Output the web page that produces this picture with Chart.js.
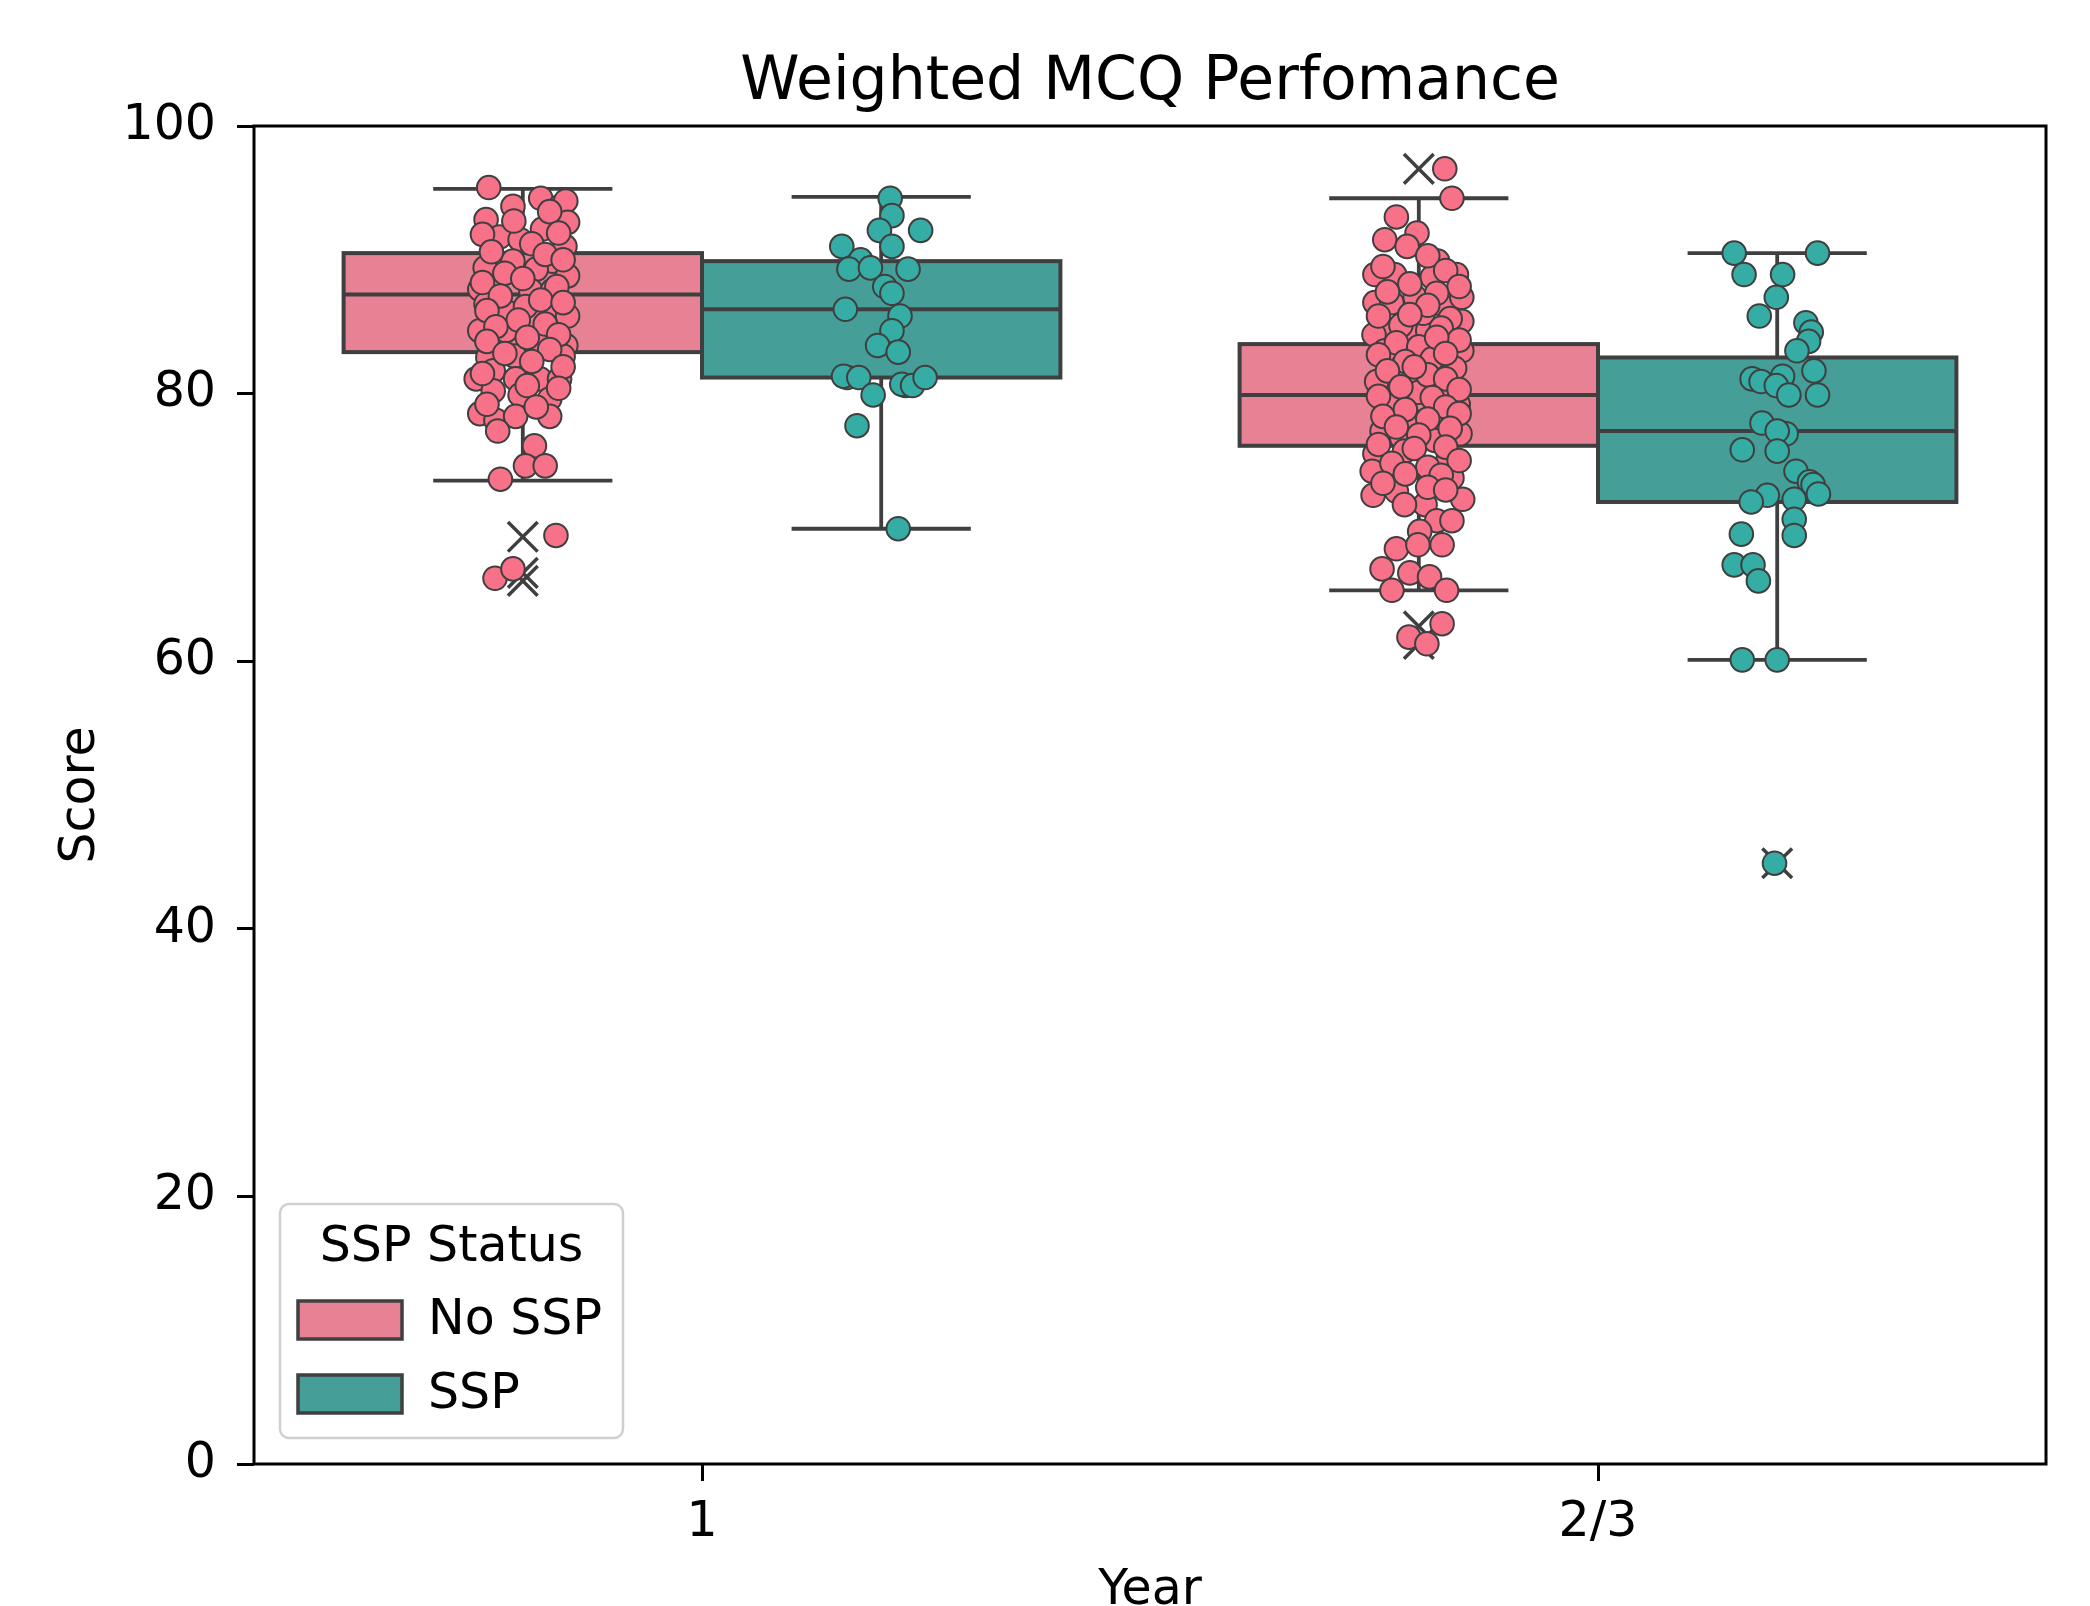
<!DOCTYPE html>
<html>
<head>
<meta charset="utf-8">
<title>Weighted MCQ Perfomance</title>
<script src="https://cdn.jsdelivr.net/npm/chart.js@4.4.1/dist/chart.umd.min.js"></script>
<style>
    html, body { margin: 0; padding: 0; background: #fff; }
    canvas { display: block; }
</style>
</head>
<body>
<canvas id="myChart" width="2090" height="1606"></canvas>
<script>
const titleText = 'Weighted MCQ Perfomance'
const categories = ['1', '2/3']
const hueLevels = ['No SSP', 'SSP']
const legendTitle = 'SSP Status'
const yTicks = [0, 20, 40, 60, 80, 100]

// box stats per year: [lower whisker, Q1, median, Q3, upper whisker]
const noSspBoxes = [[73.5, 83.1, 87.4, 90.5, 95.3], [65.3, 76.1, 79.9, 83.7, 94.6]]
const sspBoxes = [[69.9, 81.2, 86.3, 89.9, 94.7], [60.1, 71.9, 77.2, 82.7, 90.5]]

// outliers drawn as x by the box plot
const noSspFliers = [[69.3, 66.6, 66.0], [96.8, 62.6, 61.3]]
const sspFliers = [[], [44.9]]

// strip points: [score, jitter (in category units)]
const year1NoSsp = [
    [95.4, -0.038], [94.6, 0.020], [94.0, -0.011], [94.0, 0.042], [94.4, 0.048], [93.0, -0.041],
    [92.8, 0.050], [92.3, 0.022], [91.7, -0.026], [91.5, -0.003], [91.0, 0.047], [91.9, -0.045],
    [89.4, -0.042], [89.9, -0.011], [89.9, 0.033], [89.3, 0.015], [88.8, 0.050], [87.8, -0.048],
    [87.7, 0.009], [87.7, 0.033], [86.7, -0.041], [86.05, -0.017], [86.5, 0.003], [85.9, 0.037],
    [85.8, 0.050], [84.7, -0.048], [84.7, -0.019], [83.8, 0.015], [83.6, 0.048], [82.7, -0.039],
    [82.8, -0.009], [82.8, 0.045], [81.1, -0.052], [81.7, -0.033], [81.1, -0.008], [81.1, 0.019],
    [81.1, 0.041], [80.2, -0.033], [79.9, -0.003], [79.6, 0.030], [78.5, -0.048], [78.0, -0.030],
    [78.3, -0.008], [78.3, 0.030], [77.2, -0.028], [76.1, 0.013], [74.6, 0.003], [74.6, 0.025],
    [73.6, -0.025], [69.4, 0.037], [66.2, -0.031], [66.9, -0.011],
    [93.6, 0.030], [92.9, -0.010], [92.0, 0.040], [91.2, 0.010], [90.6, -0.035], [90.4, 0.025],
    [90.0, 0.045], [89.0, -0.020], [88.6, 0.000], [88.3, -0.045], [88.0, 0.038], [87.3, -0.025],
    [87.0, 0.020], [86.8, 0.045], [86.2, -0.040], [85.5, -0.005], [85.2, 0.025], [85.0, -0.030],
    [84.4, 0.040], [84.2, 0.005], [83.9, -0.040], [83.3, 0.030], [83.0, -0.020], [82.4, 0.010],
    [82.0, 0.045], [81.5, -0.045], [80.6, 0.005], [80.4, 0.040], [79.2, -0.040], [79.0, 0.015]
]
const year1Ssp = [
    [94.6, 0.010], [93.3, 0.012], [92.2, -0.002], [92.2, 0.044], [91.0, -0.044], [91.0, 0.012],
    [90.0, -0.023], [89.3, -0.036], [89.4, -0.012], [89.3, 0.030], [88.0, 0.004], [87.5, 0.012],
    [86.3, -0.040], [85.8, 0.021], [84.7, 0.012], [83.6, -0.004], [83.1, 0.019], [81.2, -0.038],
    [81.3, -0.042], [81.2, -0.025], [80.6, 0.027], [80.7, 0.023], [80.6, 0.035], [81.2, 0.049],
    [79.9, -0.009], [77.6, -0.027], [69.9, 0.019]
]
const year23NoSsp = [
    [96.8, 0.029], [94.6, 0.037], [93.2, -0.025], [92.0, -0.002], [91.5, -0.038], [91.0, -0.013],
    [89.9, 0.021], [88.9, -0.049], [88.9, -0.027], [88.9, 0.042], [88.7, 0.015], [86.8, -0.049],
    [86.8, -0.030], [87.2, -0.004], [86.4, 0.031], [87.2, 0.048], [84.7, -0.038], [84.6, -0.011],
    [84.7, 0.010], [85.4, 0.048], [84.4, -0.050], [83.2, -0.038], [82.2, 0.031], [83.2, 0.018],
    [83.2, 0.048], [80.9, -0.047], [80.1, 0.000], [80.7, 0.029], [79.5, -0.029], [79.2, 0.044],
    [78.0, -0.008], [77.2, -0.041], [77.7, 0.021], [76.5, 0.018], [77.0, 0.046], [76.7, -0.019],
    [75.5, -0.049], [75.7, -0.016], [75.2, 0.033], [74.2, -0.052], [73.7, 0.037], [72.7, -0.025],
    [72.4, -0.051], [72.1, 0.049], [71.7, 0.007], [71.7, -0.016], [70.5, 0.020], [70.5, 0.037],
    [69.7, 0.001], [68.4, -0.025], [68.7, -0.001], [68.7, 0.026], [66.9, -0.041], [66.6, -0.010],
    [66.3, 0.012], [65.3, -0.030], [65.3, 0.031], [62.8, 0.026], [61.8, -0.011], [61.3, 0.009],
    [90.3, 0.010], [89.5, -0.040], [89.2, 0.030], [88.2, -0.010], [88.0, 0.045], [87.6, -0.035],
    [87.5, 0.020], [86.0, 0.005], [85.8, -0.045], [85.6, 0.035], [85.1, -0.020], [84.9, 0.025],
    [84.0, 0.045], [83.8, -0.025], [83.5, 0.000], [82.9, -0.045], [82.6, 0.015], [82.4, -0.015],
    [81.9, 0.040], [81.7, -0.035], [81.4, 0.010], [81.1, 0.030], [80.5, -0.020], [80.3, 0.045],
    [79.8, -0.045], [79.7, 0.015], [79.0, 0.030], [78.8, -0.015], [78.5, 0.045], [78.3, -0.040],
    [78.1, 0.010], [77.5, -0.025], [77.4, 0.035], [76.9, 0.000], [76.2, -0.045], [76.0, 0.030],
    [75.9, -0.005], [75.0, 0.045], [74.8, -0.030], [74.5, 0.010], [74.0, -0.015], [73.9, 0.025],
    [73.3, -0.040], [73.0, 0.010], [72.8, 0.030], [86.6, 0.010], [85.9, -0.010], [84.2, 0.020],
    [83.0, 0.030], [82.0, -0.005]
]
const year23Ssp = [
    [90.5, -0.048], [90.5, 0.045], [88.9, -0.037], [88.9, 0.006], [87.2, -0.001], [85.8, -0.020],
    [85.3, 0.032], [84.6, 0.038], [83.9, 0.035], [83.2, 0.022], [81.7, 0.041], [81.1, -0.028],
    [80.9, -0.018], [81.3, 0.006], [80.6, -0.001], [79.9, 0.013], [79.9, 0.045], [77.8, -0.017],
    [77.0, 0.010], [77.2, 0.000], [75.8, -0.039], [75.7, 0.000], [74.2, 0.021], [73.4, 0.036],
    [73.2, 0.040], [72.5, 0.046], [72.4, -0.011], [71.9, -0.029], [72.1, 0.019], [70.6, 0.019],
    [69.4, 0.019], [69.5, -0.040], [67.2, -0.048], [67.2, -0.027], [66.0, -0.021], [60.1, -0.039],
    [60.1, 0.000], [44.9, -0.003]
]

const pointColors = ['#f77189', '#36ada4']
const boxColors = ['#e68294', '#459e97']
const lineGray = '#3f3f3f'
const fontFamily = '"DejaVu Sans", sans-serif'
const dodge = 0.2

Chart.defaults.font.family = fontFamily

const toPoints = (groups, offset) => groups.flatMap((pts, g) => pts.map(([v, j]) => ({x: g + offset + j, y: v})))
const toFliers = (groups, offset) => groups.flatMap((vals, g) => vals.map(v => ({x: g + offset, y: v})))

const boxPlugin = {
    id: 'boxes',
    beforeDatasetsDraw(chart) {
        const {ctx, scales: {x, y}} = chart
        ctx.save()
        const sets = [[noSspBoxes, -dodge, boxColors[0]], [sspBoxes, dodge, boxColors[1]]]
        for (const [boxes, off, fill] of sets) {
            boxes.forEach(([lo, q1, med, q3, hi], g) => {
                const c = g + off
                const xl = x.getPixelForValue(c - 0.2)
                const xr = x.getPixelForValue(c + 0.2)
                const cl = x.getPixelForValue(c - 0.1)
                const cr = x.getPixelForValue(c + 0.1)
                const xc = x.getPixelForValue(c)
                ctx.strokeStyle = lineGray
                ctx.lineWidth = 3.8
                ctx.beginPath()
                ctx.moveTo(xc, y.getPixelForValue(q3)); ctx.lineTo(xc, y.getPixelForValue(hi))
                ctx.moveTo(xc, y.getPixelForValue(q1)); ctx.lineTo(xc, y.getPixelForValue(lo))
                ctx.moveTo(cl, y.getPixelForValue(hi)); ctx.lineTo(cr, y.getPixelForValue(hi))
                ctx.moveTo(cl, y.getPixelForValue(lo)); ctx.lineTo(cr, y.getPixelForValue(lo))
                ctx.stroke()
                const top = y.getPixelForValue(q3)
                const bottom = y.getPixelForValue(q1)
                ctx.fillStyle = fill
                ctx.fillRect(xl, top, xr - xl, bottom - top)
                ctx.lineWidth = 4
                ctx.strokeRect(xl, top, xr - xl, bottom - top)
                ctx.beginPath()
                ctx.moveTo(xl, y.getPixelForValue(med)); ctx.lineTo(xr, y.getPixelForValue(med))
                ctx.stroke()
            })
        }
        ctx.restore()
    }
}

const framePlugin = {
    id: 'frame',
    afterDatasetsDraw(chart) {
        const {ctx, chartArea: a} = chart
        ctx.save()
        ctx.strokeStyle = '#000'
        ctx.lineWidth = 3
        ctx.strokeRect(a.left, a.top, a.right - a.left, a.bottom - a.top)
        ctx.restore()
    }
}

const legendPlugin = {
    id: 'sspLegend',
    afterDraw(chart) {
        const {ctx, chartArea} = chart
        const w = 343, h = 234, r = 9
        const left = chartArea.left + 26
        const top = chartArea.bottom - 26 - h
        ctx.save()
        ctx.beginPath()
        ctx.moveTo(left + r, top)
        ctx.arcTo(left + w, top, left + w, top + h, r)
        ctx.arcTo(left + w, top + h, left, top + h, r)
        ctx.arcTo(left, top + h, left, top, r)
        ctx.arcTo(left, top, left + w, top, r)
        ctx.closePath()
        ctx.fillStyle = 'rgba(255,255,255,0.8)'
        ctx.fill()
        ctx.strokeStyle = '#d0d0d0'
        ctx.lineWidth = 2.5
        ctx.stroke()

        ctx.font = '49px ' + fontFamily
        ctx.fillStyle = '#000'
        ctx.textBaseline = 'middle'
        ctx.textAlign = 'center'
        ctx.fillText(legendTitle, left + w / 2, top + 44)
        ctx.textAlign = 'left'
        hueLevels.forEach((name, i) => {
            const cy = top + 116 + i * 74
            ctx.fillStyle = boxColors[i]
            ctx.fillRect(left + 18, cy - 19, 104, 38)
            ctx.strokeStyle = lineGray
            ctx.lineWidth = 3.5
            ctx.strokeRect(left + 18, cy - 19, 104, 38)
            ctx.fillStyle = '#000'
            ctx.fillText(name, left + 148, cy + 1)
        })
        ctx.restore()
    }
}

const tickFont = {family: fontFamily, size: 49}

const config = {
    type: 'scatter',
    data: {
        datasets: [{
            label: hueLevels[0],
            data: toPoints([year1NoSsp, year23NoSsp], -dodge),
            backgroundColor: pointColors[0],
            borderColor: lineGray,
            borderWidth: 2,
            pointRadius: 11.8,
            pointHoverRadius: 11.8,
            order: 2,
        }, {
            label: hueLevels[1],
            data: toPoints([year1Ssp, year23Ssp], dodge),
            backgroundColor: pointColors[1],
            borderColor: lineGray,
            borderWidth: 2,
            pointRadius: 11.8,
            pointHoverRadius: 11.8,
            order: 1,
        }, {
            label: 'outliers',
            data: toFliers(noSspFliers, -dodge).concat(toFliers(sspFliers, dodge)),
            pointStyle: 'crossRot',
            borderColor: lineGray,
            borderWidth: 3.5,
            pointRadius: 21,
            pointHoverRadius: 21,
            order: 3,
        }]
    },
    options: {
        responsive: false,
        animation: false,
        devicePixelRatio: 1,
        events: [],
        layout: {padding: {left: 0, right: 44, top: 0, bottom: 0}},
        plugins: {
            legend: {display: false},
            tooltip: {enabled: false},
            title: {
                display: true,
                text: titleText,
                fullSize: false,
                color: '#000',
                font: {family: fontFamily, size: 60, weight: 'normal'},
                padding: {top: 47, bottom: 7},
            },
        },
        scales: {
            x: {
                type: 'linear',
                min: -0.5,
                max: 1.5,
                afterBuildTicks: (scale) => { scale.ticks = categories.map((c, i) => ({value: i})) },
                afterFit: (scale) => { scale.height = 142 },
                border: {display: false},
                grid: {drawOnChartArea: false, drawTicks: true, tickLength: 17, tickWidth: 3, tickColor: '#000'},
                ticks: {
                    font: tickFont,
                    color: '#000',
                    padding: 13,
                    maxRotation: 0,
                    autoSkip: false,
                    callback: (value) => categories[value],
                },
                title: {display: true, text: 'Year', color: '#000', font: tickFont, padding: {top: 0, bottom: -15}},
            },
            y: {
                min: 0,
                max: 100,
                afterBuildTicks: (scale) => { scale.ticks = yTicks.map(v => ({value: v})) },
                afterFit: (scale) => { scale.width = 254 },
                border: {display: false},
                grid: {drawOnChartArea: false, drawTicks: true, tickLength: 17, tickWidth: 3, tickColor: '#000'},
                ticks: {font: tickFont, color: '#000', padding: 21},
                title: {display: true, text: 'Score', color: '#000', font: tickFont, padding: {top: 52, bottom: 0}},
            }
        }
    },
    plugins: [boxPlugin, framePlugin, legendPlugin]
}

new Chart(document.getElementById('myChart').getContext('2d'), config)
</script>
</body>
</html>
